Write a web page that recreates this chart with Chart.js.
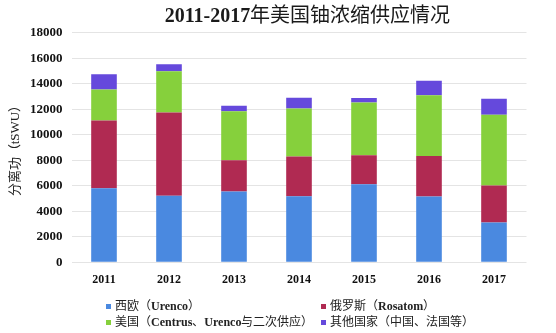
<!DOCTYPE html>
<html>
<head>
<meta charset="utf-8">
<style>
@font-face {
  font-family: 'CJKReg';
  src: local('Noto Sans CJK SC Regular'), local('NotoSansCJKsc-Regular'), local('Noto Sans CJK SC');
  font-weight: 100 900;
  unicode-range: U+2E80-9FFF, U+3000-303F, U+FF00-FFEF;
}
html, body { margin: 0; padding: 0; background: #ffffff; }
#wrap { width: 556px; height: 333px; position: relative; }
</style>
<script src="https://cdn.jsdelivr.net/npm/chart.js@4/dist/chart.umd.min.js"></script>
</head>
<body>
<div id="wrap"><canvas id="c" width="556" height="333"></canvas></div>
<script>
// ---- data ----
const years = ['2011', '2012', '2013', '2014', '2015', '2016', '2017'];
const westEurope = [5800, 5225, 5550, 5175, 6125, 5150, 3125];   // 西欧（Urenco）
const russia     = [5325, 6525, 2450, 3125, 2275, 3175, 2900];   // 俄罗斯（Rosatom）
const usa        = [2425, 3225, 3850, 3750, 4125, 4775, 5550];   // 美国（Centrus、Urenco与二次供应）
const others     = [1200,  550,  425,  850,  350, 1125, 1250];   // 其他国家（中国、法国等）
const seriesNames = ['西欧（Urenco）', '俄罗斯（Rosatom）', '美国（Centrus、Urenco与二次供应）', '其他国家（中国、法国等）'];
const yTicks = [0, 2000, 4000, 6000, 8000, 10000, 12000, 14000, 16000, 18000];
const chartTitle = '2011-2017年美国铀浓缩供应情况';
const yTitle = '分离功（tSWU）';

const colors = ['#4a89e0', '#b02a52', '#86d03c', '#6549dc'];
const FAM = "'Liberation Serif', CJKReg, 'Noto Sans CJK SC', serif";

// custom two-column legend, positioned like the reference
const gridLegend = {
  id: 'gridLegend',
  afterDraw(chart, args, opts) {
    const ctx = chart.ctx;
    ctx.save();
    ctx.font = 'bold 12px ' + FAM;
    ctx.textBaseline = 'middle';
    ctx.textAlign = 'left';
    chart.data.datasets.forEach((ds, i) => {
      const col = i % 2, row = Math.floor(i / 2);
      const x = opts.cols[col], y = opts.rows[row];
      ctx.fillStyle = ds.backgroundColor;
      ctx.fillRect(x, y - 2.5, 5, 5);
      ctx.fillStyle = '#222';
      ctx.fillText(ds.label, x + 9, y);
    });
    ctx.restore();
  }
};
const titleShift = {
  id: 'titleShift',
  afterLayout(chart, args, opts) {
    if (chart.titleBlock) {
      chart.titleBlock.left += opts.dx;
      chart.titleBlock.right += opts.dx;
    }
  }
};

function build() {
  const data = [westEurope, russia, usa, others];
  new Chart(document.getElementById('c'), {
    type: 'bar',
    data: {
      labels: years,
      datasets: data.map((d, i) => ({
        label: seriesNames[i],
        data: d,
        backgroundColor: colors[i],
        borderWidth: 0,
        barPercentage: 0.394,
        categoryPercentage: 1.0
      }))
    },
    options: {
      responsive: false,
      animation: false,
      devicePixelRatio: 1,
      layout: { padding: { left: 0, right: 29.5, top: 0, bottom: 36.3 } },
      plugins: {
        legend: { display: false },
        tooltip: { enabled: false },
        title: {
          display: true,
          text: chartTitle,
          fullSize: false,
          color: '#1a1a1a',
          font: { family: FAM, size: 20, weight: 'bold', lineHeight: 1.2 },
          padding: { top: 4.5, bottom: 4.2 }
        },
        titleShift: { dx: 8.5 },
        gridLegend: { cols: [106, 321], rows: [306.5, 322.5] }
      },
      scales: {
        x: {
          stacked: true,
          grid: { display: false, drawTicks: false },
          border: { display: false },
          ticks: {
            color: '#111',
            padding: 10,
            font: { family: FAM, size: 12, weight: 'bold', lineHeight: 1.2 }
          }
        },
        y: {
          stacked: true,
          min: 0,
          max: 18000,
          afterBuildTicks(scale) { scale.ticks = yTicks.map(v => ({ value: v })); },
          afterFit(scale) { scale.width = 71.5; },
          grid: { color: '#e4e4e4', lineWidth: 1, drawTicks: false },
          border: { display: false },
          ticks: {
            color: '#111',
            padding: 9,
            callback: (v) => String(v),
            font: { family: FAM, size: 13, weight: 'bold' }
          },
          title: {
            display: true,
            text: yTitle,
            color: '#222',
            padding: { top: 8, bottom: 0 },
            font: { family: FAM, size: 13, weight: 'normal', lineHeight: 1.2 }
          }
        }
      }
    },
    plugins: [gridLegend, titleShift]
  });
}

const fontLoads = Promise.all([
  document.fonts.load('bold 12px CJKReg', '西欧美国'),
  document.fonts.load('bold 12px "Liberation Serif"', '2011'),
  document.fonts.load('12px "Noto Sans CJK SC"', '分离功')
]).catch(() => {});
Promise.race([fontLoads, new Promise(r => setTimeout(r, 1500))]).then(build, build);
</script>
</body>
</html>
